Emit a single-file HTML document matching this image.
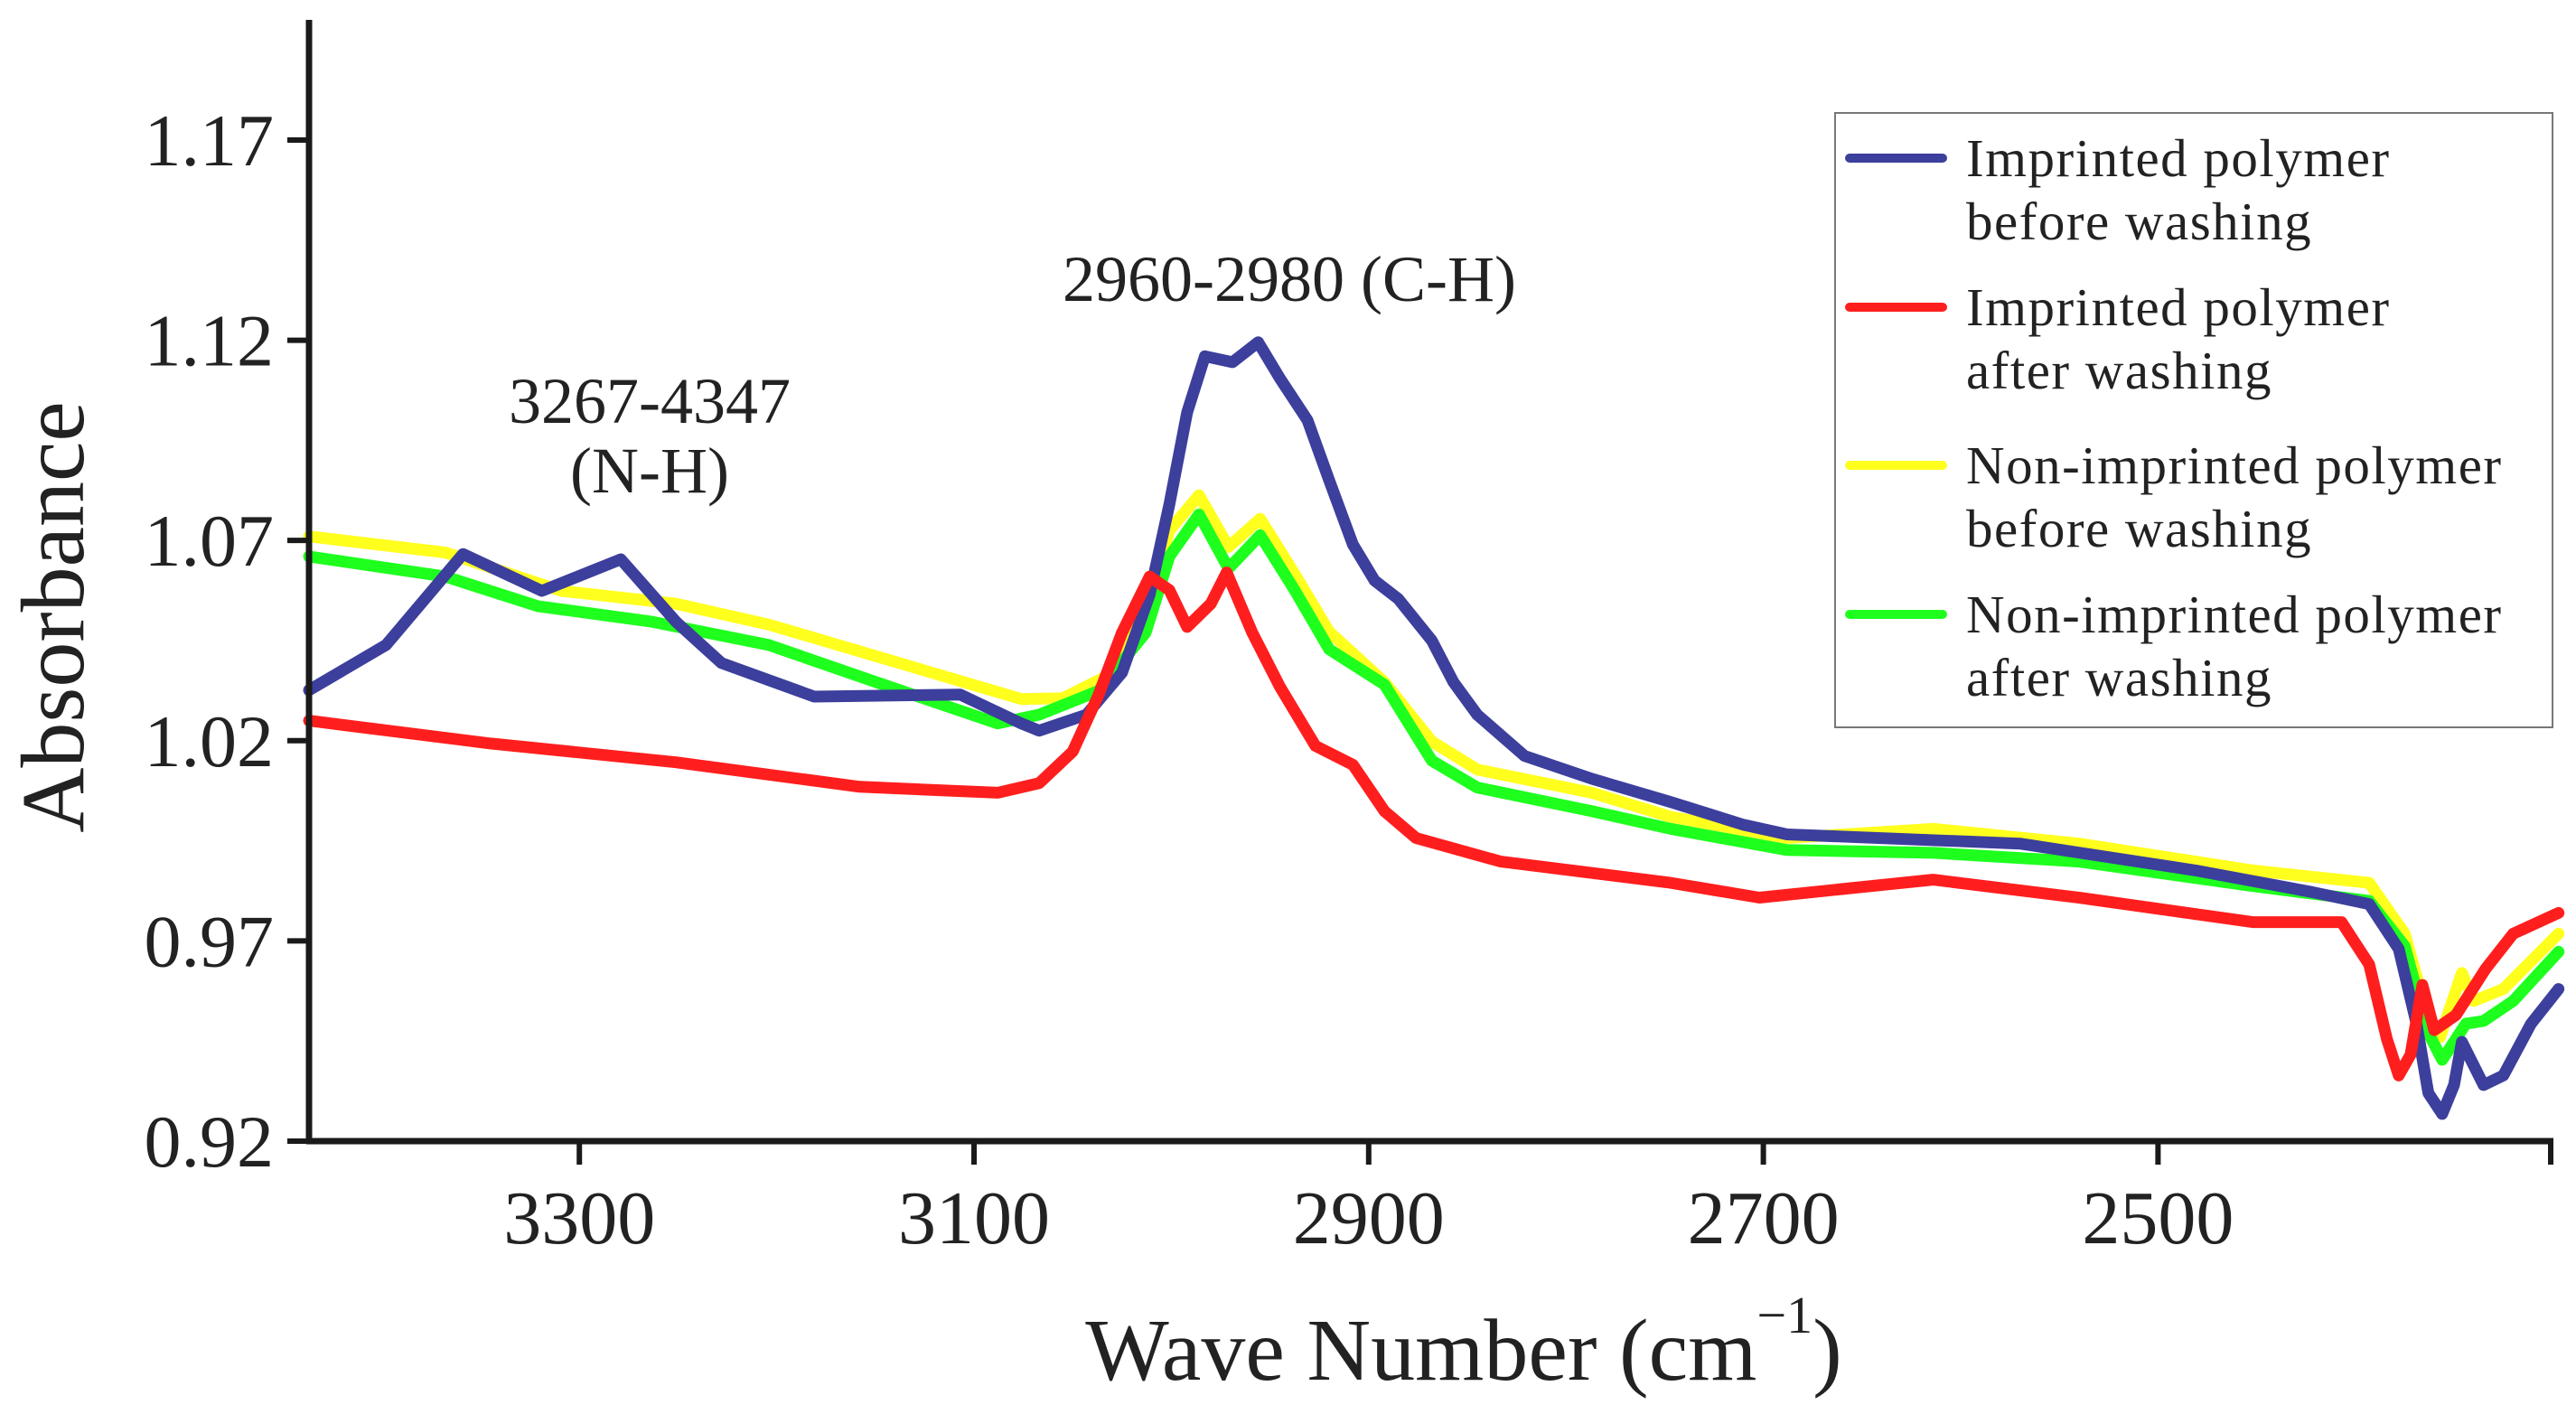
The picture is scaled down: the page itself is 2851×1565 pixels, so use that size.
<!DOCTYPE html>
<html><head><meta charset="utf-8"><style>
html,body{margin:0;padding:0;background:#fff;}
svg{display:block;}
text{font-family:"Liberation Serif","DejaVu Serif",serif;fill:#222;}
</style></head>
<body>
<svg id="chart" width="2851" height="1565" viewBox="0 0 2851 1565" xmlns="http://www.w3.org/2000/svg">
<g id="series"></g>
<g id="axes"></g>
<text transform="translate(92,683) rotate(-90)" text-anchor="middle" font-size="100">Absorbance</text>
<text x="1620" y="1527" text-anchor="middle" font-size="98">Wave Number (cm<tspan font-size="58" dy="-52">−1</tspan><tspan dy="52">)</tspan></text>
<text x="719" y="468" text-anchor="middle" font-size="72">3267-4347</text>
<text x="719" y="545" text-anchor="middle" font-size="72">(N-H)</text>
<text x="1427" y="333" text-anchor="middle" font-size="72">2960-2980 (C-H)</text>
<g>
<rect x="2031" y="125" width="794" height="680" fill="none" stroke="#777" stroke-width="2"/>
</g>
<g id="legend-items"></g>
</svg>
<script>
const X0=342,X1=2823,Y0=22,Y1=1263;
const xMin=3437,xMax=2301,yMin=0.92,yMax=1.2;
const xTicks=[3300,3100,2900,2700,2500];
const yTicks=[0.92,0.97,1.02,1.07,1.12,1.17];
const yTickLabels=["0.92","0.97","1.02","1.07","1.12","1.17"];

const blueX=[3437,3398,3359,3319,3279,3251,3228,3181,3107,3076,3067,3043,3025,3011,3001,2992,2983,2969,2956,2945,2931,2920,2908,2897,2885,2868,2857,2845,2821,2787,2747,2710,2688,2570,2481,2422,2393,2378,2369,2363,2356,2350,2346,2335,2325,2311,2297];
const blueY=[1.0326,1.0439,1.0666,1.0574,1.0653,1.0497,1.0394,1.031,1.0315,1.0243,1.0225,1.0265,1.037,1.0565,1.079,1.102,1.116,1.1145,1.1195,1.1105,1.1,1.085,1.069,1.06,1.0554,1.045,1.0346,1.0265,1.0162,1.0105,1.0047,0.999,0.9966,0.9943,0.9876,0.9822,0.9792,0.968,0.9493,0.932,0.9268,0.934,0.9448,0.934,0.9364,0.9493,0.958];
const redX=[3437,3345,3251,3158,3088,3067,3050,3037,3025,3011,3001,2992,2980,2972,2959,2945,2927,2908,2892,2876,2833,2747,2702,2614,2540,2452,2407,2393,2384,2378,2372,2366,2360,2349,2334,2320,2297];
const redY=[1.025,1.0193,1.0146,1.0085,1.007,1.0094,1.0173,1.0313,1.047,1.061,1.0576,1.0484,1.0542,1.062,1.047,1.0335,1.0187,1.014,1.0024,0.9957,0.9898,0.9845,0.9808,0.9853,0.9808,0.9747,0.9747,0.9641,0.9455,0.9364,0.9416,0.959,0.9477,0.9515,0.963,0.9718,0.977];
const yellowX=[3437,3368,3309,3251,3204,3158,3076,3055,3034,3013,3001,2986,2971,2955,2938,2920,2892,2868,2845,2787,2747,2688,2614,2540,2452,2393,2375,2363,2357,2346,2340,2325,2297];
const yellowY=[1.071,1.067,1.0574,1.0542,1.049,1.0423,1.0304,1.0306,1.0358,1.0518,1.0725,1.0813,1.0684,1.0754,1.062,1.0472,1.0346,1.0198,1.0128,1.007,1.001,0.9957,0.998,0.9943,0.9876,0.9845,0.9718,0.9506,0.946,0.962,0.955,0.958,0.9718];
const greenX=[3437,3368,3321,3263,3204,3146,3088,3067,3037,3013,3001,2986,2971,2955,2938,2920,2892,2868,2845,2787,2747,2688,2614,2540,2452,2393,2375,2363,2356,2344,2335,2320,2297];
const greenY=[1.066,1.061,1.0536,1.0497,1.0439,1.034,1.0243,1.0265,1.0324,1.047,1.066,1.0765,1.063,1.0713,1.058,1.0428,1.034,1.015,1.0083,1.0024,0.998,0.9927,0.992,0.9898,0.9837,0.98,0.9687,0.947,0.9403,0.9493,0.95,0.955,0.9673];
const seriesNames=["Imprinted polymer|before washing","Imprinted polymer|after washing","Non-imprinted polymer|before washing","Non-imprinted polymer|after washing"];

const NS="http://www.w3.org/2000/svg";
function sx(v){return X0+(xMin-v)/(xMin-xMax)*(X1-X0);}
function sy(v){return Y1-(v-yMin)/(yMax-yMin)*(Y1-Y0);}
function mk(tag,attrs,parent){const e=document.createElementNS(NS,tag);for(const k in attrs)e.setAttribute(k,attrs[k]);parent.appendChild(e);return e;}

const sg=document.getElementById('series');
const series=[
 {x:yellowX,y:yellowY,c:"#ffff1e",n:"series-nonimprinted-before"},
 {x:greenX,y:greenY,c:"#1eff1e",n:"series-nonimprinted-after"},
 {x:blueX,y:blueY,c:"#3c3f9c",n:"series-imprinted-before"},
 {x:redX,y:redY,c:"#ff1e1e",n:"series-imprinted-after"}
];
series.forEach(s=>{
 const pts=s.x.map((v,i)=>sx(v).toFixed(1)+","+sy(s.y[i]).toFixed(1)).join(" ");
 const p=mk('polyline',{points:pts,fill:"none",stroke:s.c,"stroke-width":13,"stroke-linejoin":"round","stroke-linecap":"round"},sg);
 
 
});

const ax=document.getElementById('axes');
const yl=mk('line',{x1:X0,y1:Y0,x2:X0,y2:Y1+3,stroke:"#1a1a1a","stroke-width":7},ax);


const xl=mk('line',{x1:X0-3,y1:Y1,x2:X1+3,y2:Y1,stroke:"#1a1a1a","stroke-width":7},ax);


yTicks.forEach((v,i)=>{
 const t=mk('line',{x1:X0-24,y1:sy(v),x2:X0,y2:sy(v),stroke:"#1a1a1a","stroke-width":6},ax);
 
 
 const l=mk('text',{x:303,y:sy(v)+28,"text-anchor":"end","font-size":82},ax);
 l.textContent=yTickLabels[i];
 
 
});
xTicks.forEach(v=>{
 const t=mk('line',{x1:sx(v),y1:Y1,x2:sx(v),y2:Y1+26,stroke:"#1a1a1a","stroke-width":6},ax);
 
 
 const l=mk('text',{x:sx(v),y:1376,"text-anchor":"middle","font-size":84},ax);
 l.textContent=String(v);
 
 
});
const et=mk('line',{x1:X1,y1:Y1,x2:X1,y2:Y1+26,stroke:"#1a1a1a","stroke-width":6},ax);



const lg=document.getElementById('legend-items');
const legColors=["#3c3f9c","#ff1e1e","#ffff1e","#1eff1e"];
const legBase=[195,360,535,700];
seriesNames.forEach((nm,i)=>{
 const g=mk('g',{},lg);
 
 
 const ln=mk('line',{x1:2047,y1:legBase[i]-20,x2:2150,y2:legBase[i]-20,stroke:legColors[i],"stroke-width":10,"stroke-linecap":"round"},g);
 
 
 const parts=nm.split("|");
 parts.forEach((p,j)=>{
  const t=mk('text',{x:2176,y:legBase[i]+j*70,"font-size":59,"letter-spacing":"1.5"},g);
  t.textContent=p;
  
  
 });
});
</script>
</body></html>
